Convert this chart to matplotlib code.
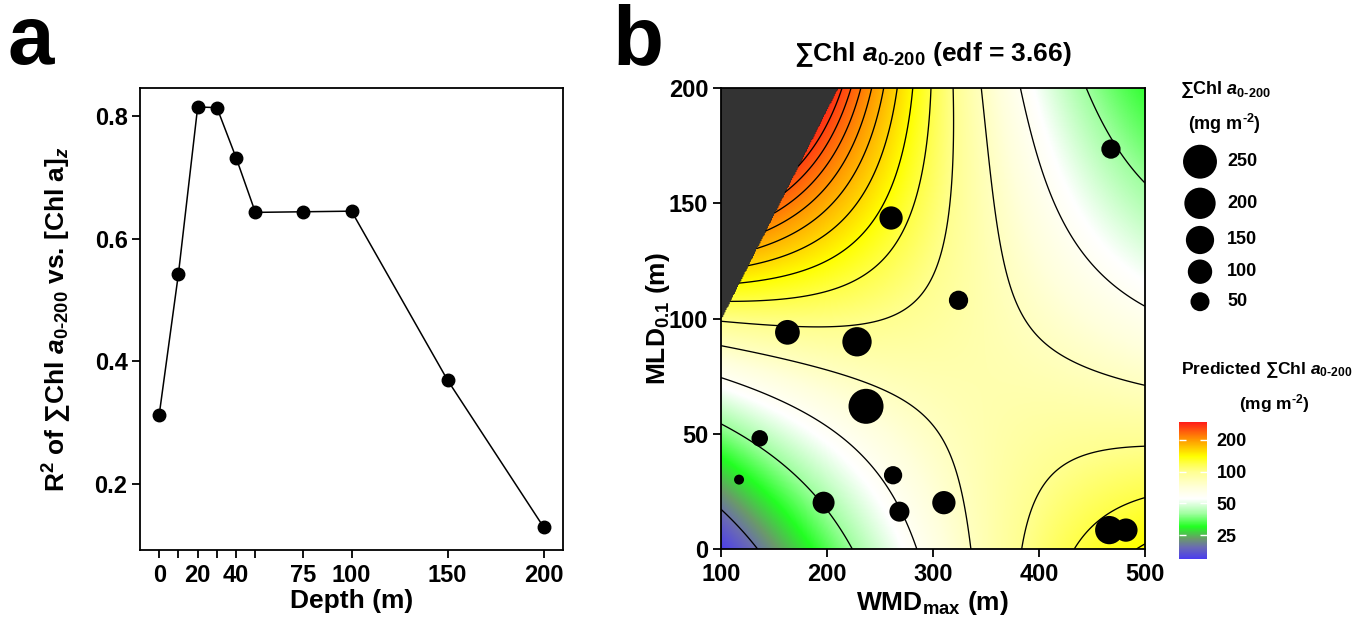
import numpy as np
import matplotlib
matplotlib.use('Agg')
import matplotlib.pyplot as plt
from matplotlib.colors import LinearSegmentedColormap, LogNorm

plt.rcParams['font.family'] = ['Liberation Sans', 'DejaVu Sans']
plt.rcParams['font.weight'] = 'bold'
plt.rcParams['mathtext.fontset'] = 'custom'
plt.rcParams['mathtext.rm'] = 'Liberation Sans:bold'
plt.rcParams['mathtext.it'] = 'Liberation Sans:bold:italic'
plt.rcParams['mathtext.bf'] = 'Liberation Sans:bold'
plt.rcParams['mathtext.sf'] = 'Liberation Sans:bold'

# ---------------- Panel a data ----------------
depth = [0, 10, 20, 30, 40, 50, 75, 100, 150, 200]
r2 = [0.313, 0.543, 0.815, 0.814, 0.732, 0.643, 0.644, 0.645, 0.369, 0.129]
depth_ticklabels = ['0', '', '20', '', '40', '', '75', '100', '150', '200']
r2_ticks = [0.2, 0.4, 0.6, 0.8]

# ---------------- Panel b data ----------------
wmd_obs = [467.9, 260.6, 324.2, 162.9, 228.5, 237.0, 136.8, 117.3, 262.5, 197.0, 268.5, 310.4, 466.3, 482.0]
mld_obs = [173.5, 143.6, 107.9, 94.0, 89.9, 61.9, 48.0, 30.1, 32.0, 20.1, 16.2, 20.1, 8.2, 8.2]
chl_obs = [52, 88, 52, 104, 167, 273, 34, 8.4, 45, 75, 58, 88, 151, 88]

grid_wmd = [100, 150, 200, 250, 300, 350, 400, 450, 500]
grid_mld = [0, 25, 50, 75, 100, 125, 150, 175, 200]
pred_y0 = [14.5, 22.9, 33.7, 48.9, 66.6, 86.0, 105.0, 124.8, 146.0]
pred_y25 = [23.4, 32.0, 43.0, 55.6, 71.9, 86.2, 98.2, 108.0, 117.6]
pred_y50 = [38.1, 46.0, 56.6, 69.1, 83.0, 88.0, 92.0, 95.5, 94.6]
pred_y75 = [62.0, 69.0, 77.0, 83.0, 87.0, 89.0, 85.0, 81.0, 76.6]
pred_y100 = [102.0, 102.0, 102.0, 100.0, 94.0, 87.0, 79.0, 70.6, 63.0]
pred_y125 = [165.0, 157.0, 140.0, 117.0, 101.0, 86.6, 70.6, 58.4, 52.0]
pred_y150 = [270.0, 235.0, 195.0, 150.0, 107.0, 83.0, 61.5, 51.4, 43.0]
pred_y175 = [440.0, 370.0, 250.0, 168.0, 111.5, 80.0, 57.6, 44.8, 35.4]
pred_y200 = [700.0, 540.0, 340.0, 176.0, 114.3, 78.1, 55.3, 40.1, 30.5]

contour_levels = [20, 40, 60, 80, 100, 120, 140, 160, 180, 200, 220, 240, 260, 280]
cbar_ticks = [25, 50, 100, 200]
cbar_range = [14.7, 298]
size_legend_values = [250, 200, 150, 100, 50]
# region excluded from the prediction (too far from data)
mask_wmd = [100, 209.6, 100]
mask_mld = [100, 200, 200]

# colour ramp (value -> colour)
cmap_values = [14.7, 19, 23, 30, 40, 55, 70, 85, 100, 120, 140, 200, 298]
cmap_colors = ['#4a3cf0', '#6a6ab4', '#6a9a6a', '#22ff22', '#a0ffa0', '#ffffff',
               '#ffffdc', '#ffffb4', '#ffff90', '#ffff48', '#ffff00', '#ff9900', '#ff1a1a']

W, H = 1371, 621


def diam_px(v):
    return 19.0 * (np.asarray(v, float) / 50.0) ** 0.36


def size_pt2(v):
    return (diam_px(v) * 72.0 / 100.0) ** 2


def poly_terms(u, v, deg):
    return np.stack([u ** i * v ** j for i in range(deg + 1) for j in range(deg + 1 - i)], axis=-1)


fig = plt.figure(figsize=(W / 100, H / 100), dpi=100)

# ---------------- Panel a ----------------
ax1 = fig.add_axes([140 / W, 1 - 550 / H, 423 / W, 462 / H])
ax1.plot(depth, r2, color='black', lw=1.1, marker='o', ms=9, mfc='black', mec='black')
ax1.set_xlim(-10, 210)
ax1.set_ylim(0.092, 0.846)
ax1.set_xticks(depth)
ax1.set_xticklabels(depth_ticklabels)
ax1.set_yticks(r2_ticks)
ax1.set_yticklabels(['0.2', '0.4', '0.6', '0.8'])
ax1.tick_params(direction='out', length=6, width=1.3, labelsize=17)
ax1.tick_params(axis='x', pad=4)
ax1.tick_params(axis='y', pad=3)
for sp in ax1.spines.values():
    sp.set_linewidth(1.3)
ax1.set_xlabel('Depth (m)', fontsize=19, fontweight='bold')
ax1.xaxis.set_label_coords((352 - 140) / 423, (550 - 589) / 462)
ax1.set_ylabel(r'R$^{2}$ of ∑Chl $a_{\mathrm{0\text{-}200}}$ vs. [Chl a]$_{z}$', fontsize=19, fontweight='bold')
ax1.yaxis.set_label_coords((74 - 140) / 423, 0.5)

# ---------------- Panel b ----------------
ax2 = fig.add_axes([720.7 / W, 1 - 549 / H, 424.3 / W, 461 / H])
ax2.set_facecolor('#333333')

# smooth surface through the read grid values (least-squares polynomial in log space)
GX, GY = np.meshgrid(np.array(grid_wmd, float), np.array(grid_mld, float))
pred = np.array([pred_y0, pred_y25, pred_y50, pred_y75, pred_y100,
                 pred_y125, pred_y150, pred_y175, pred_y200])
slope = (mask_mld[1] - mask_mld[0]) / (mask_wmd[1] - mask_wmd[0])
grid_excl = GY > mask_mld[0] + (GX - mask_wmd[0]) * slope
wts = np.where(grid_excl, 0.35, 1.0).ravel()
deg = 4
A = poly_terms((GX.ravel() - 300) / 200, (GY.ravel() - 100) / 100, deg)
coef, *_ = np.linalg.lstsq(A * wts[:, None], np.log(pred).ravel() * wts, rcond=None)

xf = np.linspace(grid_wmd[0], grid_wmd[-1], 401)
yf = np.linspace(grid_mld[0], grid_mld[-1], 401)
XF, YF = np.meshgrid(xf, yf)
Z = np.exp(poly_terms((XF - 300) / 200, (YF - 100) / 100, deg) @ coef)
excluded = YF > mask_mld[0] + (XF - mask_wmd[0]) * slope
Zm = np.ma.array(Z, mask=excluded)

pos = [np.log(v / cmap_values[0]) / np.log(cmap_values[-1] / cmap_values[0]) for v in cmap_values]
cmap = LinearSegmentedColormap.from_list('chl', list(zip(pos, cmap_colors)), N=512)
norm = LogNorm(vmin=cbar_range[0], vmax=cbar_range[1])

im = ax2.imshow(Zm, extent=[xf[0], xf[-1], yf[0], yf[-1]], origin='lower', cmap=cmap,
                norm=norm, aspect='auto', interpolation='bilinear', zorder=1)
ax2.contour(XF, YF, Zm, levels=contour_levels, colors='black', linewidths=0.95, zorder=2)
ax2.fill(mask_wmd, mask_mld, color='#333333', lw=0, zorder=2.5)
ax2.scatter(wmd_obs, mld_obs, s=size_pt2(chl_obs), c='black', edgecolors='none', zorder=4)
ax2.set_xlim(100, 500)
ax2.set_ylim(0, 200)
ax2.set_xticks([100, 200, 300, 400, 500])
ax2.set_yticks([0, 50, 100, 150, 200])
ax2.tick_params(direction='out', length=6, width=1.3, labelsize=17)
ax2.tick_params(axis='x', pad=4)
ax2.tick_params(axis='y', pad=3)
for sp in ax2.spines.values():
    sp.set_linewidth(1.3)
    sp.set_zorder(5)
ax2.set_xlabel(r'WMD$_{\mathrm{max}}$ (m)', fontsize=19, fontweight='bold')
ax2.xaxis.set_label_coords(0.5, (549 - 589) / 461)
ax2.set_ylabel(r'MLD$_{\mathrm{0.1}}$ (m)', fontsize=19, fontweight='bold')
ax2.yaxis.set_label_coords((672 - 720.7) / 424.3, 0.5)

fig.text(933 / W, 1 - 55 / H, r'∑Chl $a_{\mathrm{0\text{-}200}}$ (edf = 3.66)',
         ha='center', va='center', fontsize=19, fontweight='bold')

# panel letters
fig.text(8 / W, 1 - 64 / H, 'a', fontsize=60, fontweight='bold', ha='left', va='baseline')
fig.text(612 / W, 1 - 64 / H, 'b', fontsize=60, fontweight='bold', ha='left', va='baseline')

# ---------------- colour bar ----------------
cax = fig.add_axes([1179 / W, 1 - 559.3 / H, 27.7 / W, 137.6 / H])
cb = fig.colorbar(im, cax=cax, ticks=cbar_ticks)
cb.ax.minorticks_off()
cb.ax.set_yticks(cbar_ticks)
cb.ax.set_yticklabels([str(t) for t in cbar_ticks])
cb.outline.set_visible(False)
cb.ax.tick_params(which='major', direction='in', length=5, width=1, color='white',
                  left=True, right=True, labelleft=False, labelright=True,
                  labelsize=13, pad=7)
fig.text(1267 / W, 1 - 370 / H, r'Predicted ∑Chl $a_{\mathrm{0\text{-}200}}$',
         ha='center', va='center', fontsize=12.5, fontweight='bold')
fig.text(1274 / W, 1 - 404 / H, r'(mg m$^{\mathrm{\text{-}2}}$)',
         ha='center', va='center', fontsize=12.5, fontweight='bold')

# ---------------- size legend ----------------
fig.text(1225 / W, 1 - 90 / H, r'∑Chl $a_{\mathrm{0\text{-}200}}$',
         ha='center', va='center', fontsize=13, fontweight='bold')
fig.text(1224 / W, 1 - 124 / H, r'(mg m$^{\mathrm{\text{-}2}}$)',
         ha='center', va='center', fontsize=13, fontweight='bold')
leg_ax = fig.add_axes([0, 0, 1, 1], facecolor='none')
leg_ax.set_xlim(0, W)
leg_ax.set_ylim(H, 0)
leg_ax.axis('off')
leg_rows = [161.7, 203.3, 240.0, 271.7, 301.7]
leg_ax.scatter([1200] * len(size_legend_values), leg_rows, s=size_pt2(size_legend_values),
               c='black', edgecolors='none')
for v, yr in zip(size_legend_values, leg_rows):
    leg_ax.text(1227, yr, str(v), ha='left', va='center', fontsize=13, fontweight='bold')

fig.savefig('out.png', dpi=100)
